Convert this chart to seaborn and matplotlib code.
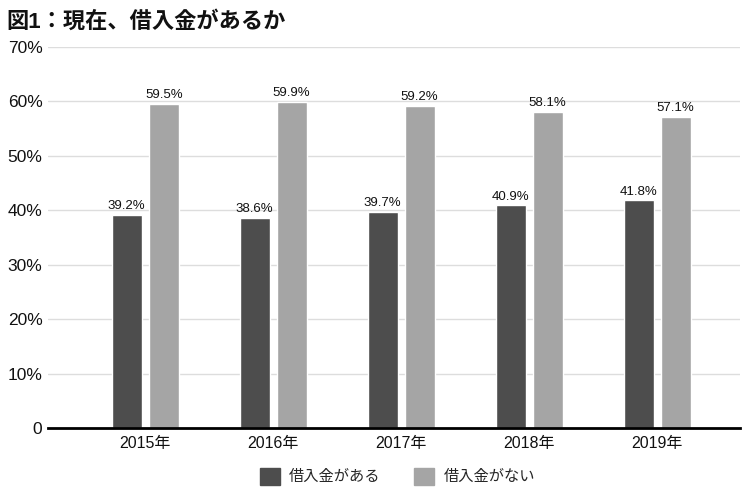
import matplotlib
matplotlib.use("Agg")
import matplotlib.pyplot as plt
import seaborn as sns
import pandas as pd
from matplotlib.patches import Patch

years = ["2015年", "2016年", "2017年", "2018年", "2019年"]
series_names = ["借入金がある", "借入金がない"]
has_debt = [39.2, 38.6, 39.7, 40.9, 41.8]
no_debt = [59.5, 59.9, 59.2, 58.1, 57.1]
y_ticks = [0, 10, 20, 30, 40, 50, 60, 70]
y_tick_labels = ["0", "10%", "20%", "30%", "40%", "50%", "60%", "70%"]
colors = ["#4d4d4d", "#a5a5a5"]

df = pd.DataFrame({
    "year": years * 2,
    "series": [series_names[0]] * 5 + [series_names[1]] * 5,
    "value": has_debt + no_debt,
})

sns.set_theme(style="white")
plt.rcParams["font.family"] = ["Liberation Sans", "Noto Sans CJK JP", "DejaVu Sans"]

fig = plt.figure(figsize=(7.5, 4.94), dpi=100)
ax = fig.add_axes([0.064, 0.1336, 0.923, 0.7713])

sns.barplot(data=df, x="year", y="value", hue="series", palette=colors,
            width=0.578, gap=0.19, ax=ax, legend=False, saturation=1)

for cont in ax.containers:
    ax.bar_label(cont, labels=[f"{v:.1f}%" for v in cont.datavalues],
                 padding=2, fontsize=9.5, color="#111111")

ax.set_ylim(0, 70)
ax.set_xlim(-0.76, 4.65)
ax.set_yticks(y_ticks)
ax.set_yticklabels(y_tick_labels, fontsize=12.5, color="#111111")
ax.tick_params(axis="x", labelsize=11.5, colors="#111111", length=0, pad=6)
ax.tick_params(axis="y", length=0, pad=4)
ax.set_xlabel("")
ax.set_ylabel("")
ax.yaxis.grid(True, color="#dddddd", linewidth=1)
ax.set_axisbelow(True)
for s in ["top", "right", "left"]:
    ax.spines[s].set_visible(False)
ax.spines["bottom"].set_color("#000000")
ax.spines["bottom"].set_linewidth(2)

fig.text(0.008, 0.955, "図1：現在、借入金があるか", fontsize=16, fontweight="bold",
         va="center", ha="left", color="#111111")

handles = [Patch(facecolor=c, edgecolor=c) for c in colors]
fig.legend(handles, series_names, loc="center", bbox_to_anchor=(0.53, 0.036),
           ncol=2, frameon=False, fontsize=11, handlelength=1.3, handleheight=1.3,
           columnspacing=2.2, handletextpad=0.6)

fig.savefig("out.png", dpi=100)
